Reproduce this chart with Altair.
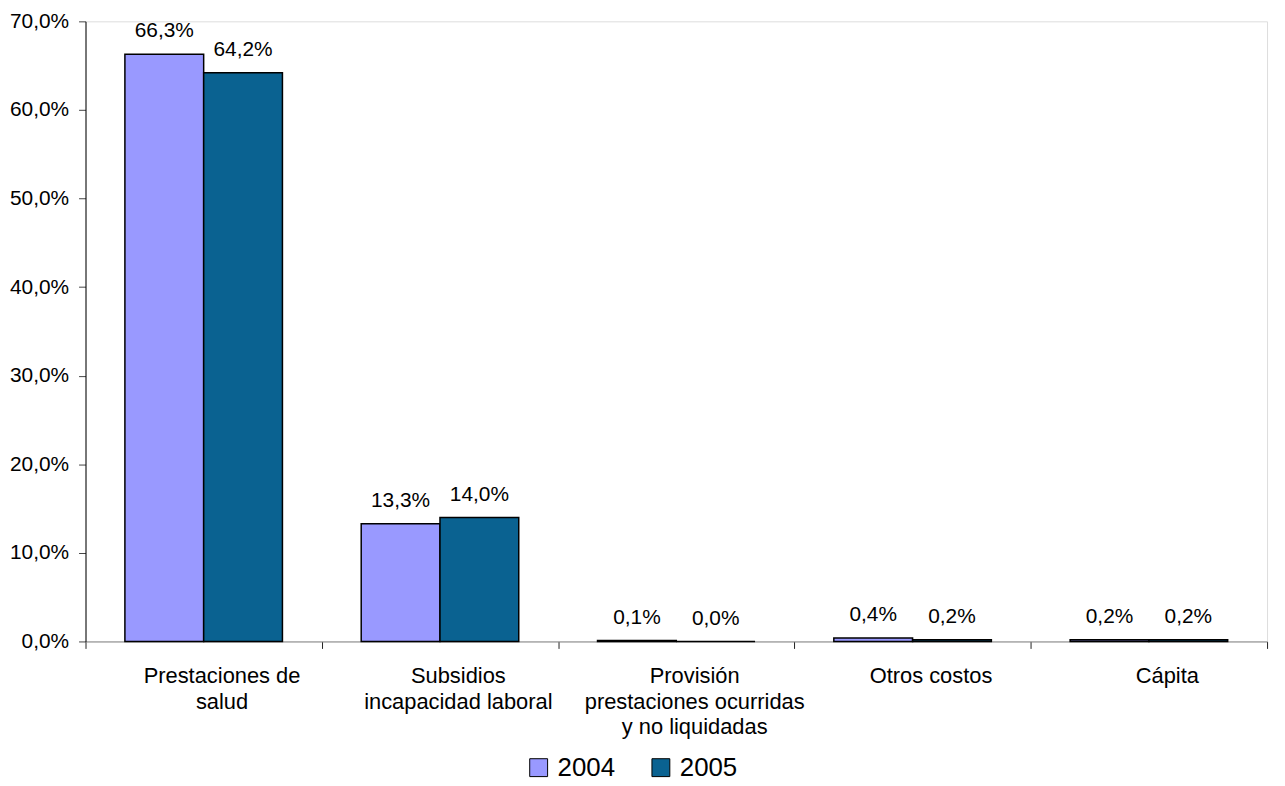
import altair as alt
import pandas as pd

categories = [
    "Prestaciones de|salud",
    "Subsidios|incapacidad laboral",
    "Provisión|prestaciones ocurridas|y no liquidadas",
    "Otros costos",
    "Cápita",
]
years = ["2004", "2005"]
values_2004 = [66.3, 13.3, 0.1, 0.4, 0.2]
values_2005 = [64.2, 14.0, 0.0, 0.2, 0.2]
y_ticks = [0, 10, 20, 30, 40, 50, 60, 70]
colors = ["#9999FF", "#0A6291"]

rows = []
for c, v in zip(categories, values_2004):
    rows.append({"category": c, "year": "2004", "value": v})
for c, v in zip(categories, values_2005):
    rows.append({"category": c, "year": "2005", "value": v})
df = pd.DataFrame(rows)

FONT = "Liberation Sans"

x_enc = alt.X(
    "category:N",
    sort=categories,
    title=None,
    scale=alt.Scale(paddingInner=0, paddingOuter=0),
    axis=alt.Axis(
        tickBand="extent",
        labelExpr="split(datum.label, '|')",
        labelAngle=0,
        labelFont=FONT,
        labelFontSize=22,
        labelLineHeight=26,
        labelColor="black",
        labelPadding=17,
        labelOffset=18,
        labelBaseline="top",
        labelLimit=0,
        domainColor="#888888",
        tickColor="#222222",
        tickSize=7,
        grid=False,
    ),
)
xoff = alt.XOffset("year:N", sort=years, scale=alt.Scale(paddingInner=0, paddingOuter=0.5))
y_enc = alt.Y(
    "value:Q",
    title=None,
    scale=alt.Scale(domain=[0, 70], nice=False),
    axis=alt.Axis(
        values=y_ticks,
        labelExpr="replace(format(datum.value, '.1f'), '.', ',') + '%'",
        labelFont=FONT,
        labelFontSize=21,
        labelColor="black",
        labelPadding=10,
        domainColor="black",
        tickColor="#444444",
        tickSize=7,
        grid=False,
    ),
)

bars = alt.Chart(df).mark_bar(stroke="black", strokeWidth=1.5).encode(
    x=x_enc,
    xOffset=xoff,
    y=y_enc,
    color=alt.Color(
        "year:N",
        sort=years,
        scale=alt.Scale(domain=years, range=colors),
        legend=alt.Legend(
            orient="none",
            legendX=443,
            legendY=738,
            direction="horizontal",
            title=None,
            symbolType="square",
            symbolSize=324,
            symbolStrokeColor="black",
            symbolStrokeWidth=1,
            symbolOpacity=1,
            labelFont=FONT,
            labelFontSize=26,
            labelColor="black",
            labelOffset=6,
            columnPadding=33,
        ),
    ),
)

labels = alt.Chart(df).transform_calculate(
    lbl="replace(format(datum.value, '.1f'), '.', ',') + '%'"
).mark_text(font=FONT, fontSize=21, color="black", baseline="alphabetic", dy=-17).encode(
    x=alt.X("category:N", sort=categories),
    xOffset=alt.XOffset("year:N", sort=years),
    y="value:Q",
    text="lbl:N",
)

chart = (
    alt.layer(bars, labels)
    .properties(
        width=1189,
        height=624,
        padding={"left": 78, "top": 11, "right": 10, "bottom": 140},
        autosize=alt.AutoSizeParams(type="none"),
    )
    .configure_view(stroke=None)
    .configure(background="white")
)

chart.save("out.html", embed_options={"renderer": "svg", "actions": False})
